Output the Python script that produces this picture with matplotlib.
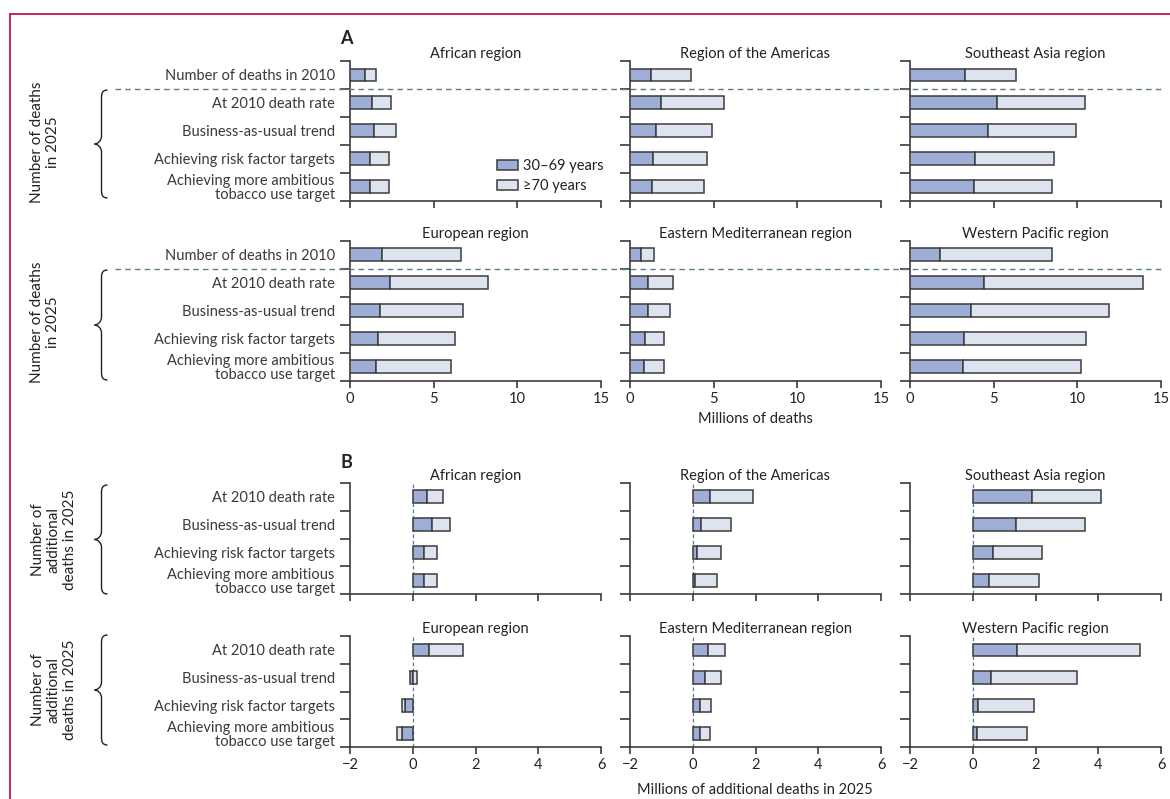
import numpy as np
import matplotlib
matplotlib.use("Agg")
import matplotlib.pyplot as plt
from matplotlib.patches import Patch, PathPatch
from matplotlib.path import Path
from matplotlib.lines import Line2D
import matplotlib.transforms as mtransforms

plt.rcParams['font.family'] = ['Lato', 'DejaVu Sans']
plt.rcParams['text.color'] = '#222222'
plt.rcParams['axes.labelcolor'] = '#222222'
plt.rcParams['xtick.color'] = '#3a3a3a'
plt.rcParams['ytick.color'] = '#3a3a3a'
plt.rcParams['xtick.labelcolor'] = '#222222'

# ---------------- data ----------------
regions = ["African region", "Region of the Americas", "Southeast Asia region",
           "European region", "Eastern Mediterranean region", "Western Pacific region"]

cats_a = ["Number of deaths in 2010", "At 2010 death rate", "Business-as-usual trend",
          "Achieving risk factor targets", "Achieving more ambitious\ntobacco use target"]
cats_b = cats_a[1:]

# Panel A: millions of deaths (30-69 years, >=70 years)
a_30_69 = {
    "African region": [0.87, 1.33, 1.46, 1.21, 1.21],
    "Region of the Americas": [1.26, 1.84, 1.57, 1.39, 1.33],
    "Southeast Asia region": [3.29, 5.20, 4.66, 3.90, 3.83],
    "European region": [1.92, 2.40, 1.81, 1.65, 1.58],
    "Eastern Mediterranean region": [0.63, 1.10, 1.06, 0.90, 0.86],
    "Western Pacific region": [1.78, 4.44, 3.63, 3.20, 3.18],
}
a_70 = {
    "African region": [0.69, 1.14, 1.29, 1.12, 1.12],
    "Region of the Americas": [2.36, 3.76, 3.31, 3.19, 3.10],
    "Southeast Asia region": [3.04, 5.27, 5.29, 4.70, 4.64],
    "European region": [4.69, 5.84, 4.96, 4.60, 4.48],
    "Eastern Mediterranean region": [0.83, 1.45, 1.35, 1.15, 1.19],
    "Western Pacific region": [6.71, 9.46, 8.24, 7.32, 7.05],
}
# Panel B: millions of additional deaths in 2025
b_30_69 = {
    "African region": [0.47, 0.60, 0.35, 0.35],
    "Region of the Americas": [0.56, 0.25, 0.13, 0.07],
    "Southeast Asia region": [1.89, 1.38, 0.65, 0.53],
    "European region": [0.51, -0.08, -0.26, -0.33],
    "Eastern Mediterranean region": [0.49, 0.38, 0.23, 0.22],
    "Western Pacific region": [1.41, 0.57, 0.17, 0.12],
}
b_70 = {
    "African region": [0.48, 0.59, 0.42, 0.42],
    "Region of the Americas": [1.37, 0.97, 0.78, 0.71],
    "Southeast Asia region": [2.19, 2.19, 1.57, 1.57],
    "European region": [1.10, 0.15, -0.07, -0.17],
    "Eastern Mediterranean region": [0.55, 0.52, 0.36, 0.34],
    "Western Pacific region": [3.91, 2.75, 1.77, 1.60],
}
a_ticks = [0, 5, 10, 15]
b_ticks = [-2, 0, 2, 4, 6]
series_labels = ["30\u201369 years", "\u226570 years"]

# ---------------- style ----------------
C_BLUE = "#9eaed6"
C_LIGHT = "#dde3ef"
C_EDGE = "#3c3c3c"
C_DASH = "#5b7d8f"
C_BORDER = "#c8174a"
FS = 10.5

W, H = 1170, 799
fig = plt.figure(figsize=(W / 100, H / 100), dpi=100)


def px_axes(left, top, right, bottom):
    return fig.add_axes([left / W, 1 - bottom / H, (right - left) / W, (bottom - top) / H])


col_x = [(350, 601), (630, 881), (910, 1161)]
rows_px = {
    "A1": (61, 200.5), "A2": (240.7, 380.7),
    "B1": (482.7, 594.3), "B2": (636, 747.3),
}


def style_axes(ax, ncat, xlim, xticks, show_xlabels, cats, show_ylabels):
    for s in ["top", "right"]:
        ax.spines[s].set_visible(False)
    for s in ["left", "bottom"]:
        ax.spines[s].set_color(C_EDGE)
        ax.spines[s].set_linewidth(1.2)
    ax.set_xlim(*xlim)
    ax.set_ylim(ncat - 0.5, -0.5)
    ax.set_xticks(xticks)
    ax.tick_params(axis="x", length=5, width=1.2, pad=3, labelsize=FS,
                   labelbottom=show_xlabels)
    ax.set_yticks(np.arange(-0.5, ncat, 1.0))
    ax.set_yticklabels([])
    ax.tick_params(axis="y", which="major", length=7, width=1.2)
    ax.set_yticks(np.arange(ncat), minor=True)
    if show_ylabels:
        ax.set_yticklabels(cats, minor=True, fontsize=FS, linespacing=1.0)
    ax.tick_params(axis="y", which="minor", length=0, pad=11)


def draw_bars(ax, v1, v2):
    y = np.arange(len(v1))
    v1 = np.asarray(v1)
    v2 = np.asarray(v2)
    left2 = np.where(np.sign(v1) == np.sign(v2), v1, 0.0)
    ax.barh(y, v1, height=0.46, color=C_BLUE, edgecolor=C_EDGE, linewidth=1.1, zorder=3)
    ax.barh(y, v2, left=left2, height=0.46, color=C_LIGHT, edgecolor=C_EDGE,
            linewidth=1.1, zorder=3)


axes = {}
for panel in ["A", "B"]:
    for r in range(2):
        key = f"{panel}{r + 1}"
        top, bot = rows_px[key]
        for c in range(3):
            reg = regions[r * 3 + c]
            ax = px_axes(col_x[c][0], top, col_x[c][1], bot)
            axes[(key, c)] = ax
            if panel == "A":
                draw_bars(ax, a_30_69[reg], a_70[reg])
                style_axes(ax, len(cats_a), (0, 15), a_ticks, r == 1, cats_a, c == 0)
            else:
                ax.axvline(0, color=C_DASH, lw=0.9, ls=(0, (3, 2)), zorder=1)
                draw_bars(ax, b_30_69[reg], b_70[reg])
                style_axes(ax, len(cats_b), (-2, 6), b_ticks, r == 1, cats_b, c == 0)
            ax.set_title(reg, fontsize=FS, pad=1.5)

# legend
leg_ax = axes[("A1", 0)]
handles = [Patch(facecolor=C_BLUE, edgecolor=C_EDGE, linewidth=1.1),
           Patch(facecolor=C_LIGHT, edgecolor=C_EDGE, linewidth=1.1)]
leg_ax.legend(handles, series_labels, loc="upper left",
              bbox_to_anchor=((497 - 350) / 251, (200.5 - 159) / 139.5),
              frameon=False, fontsize=FS, handlelength=1.45, handleheight=0.75,
              handletextpad=0.35, labelspacing=0.42, borderpad=0, borderaxespad=0)

# horizontal dashed separators in panel A
for key in ["A1", "A2"]:
    ax = axes[(key, 0)]
    tr = mtransforms.blended_transform_factory(fig.transFigure, ax.transData)
    fig.add_artist(Line2D([115 / W, 1162 / W], [0.5, 0.5], transform=tr, color=C_DASH,
                          lw=1.0, ls=(0, (4, 3)), zorder=5))


# braces
def brace(x, ytop, ybot):
    ym = (ytop + ybot) / 2
    pts = [
        (x + 6, ytop), (x + 1, ytop), (x, ytop + 3), (x, ytop + 8),
        (x, ym - 8),
        (x, ym - 3), (x - 4, ym), (x - 7, ym),
        (x - 4, ym), (x, ym + 3), (x, ym + 8),
        (x, ybot - 8),
        (x, ybot - 3), (x + 1, ybot), (x + 6, ybot),
    ]
    codes = [Path.MOVETO, Path.CURVE4, Path.CURVE4, Path.CURVE4,
             Path.LINETO,
             Path.CURVE4, Path.CURVE4, Path.CURVE4,
             Path.CURVE4, Path.CURVE4, Path.CURVE4,
             Path.LINETO,
             Path.CURVE4, Path.CURVE4, Path.CURVE4]
    verts = [(px / W, 1 - py / H) for px, py in pts]
    fig.add_artist(PathPatch(Path(verts, codes), transform=fig.transFigure,
                             facecolor="none", edgecolor="#222222", lw=1.0))


brace(101.5, 90, 198)
brace(101.5, 270, 380)
brace(101.5, 485, 594)
brace(101.5, 635, 745)

lab_a = "Number of deaths\nin 2025"
lab_b = "Number of\nadditional\ndeaths in 2025"
for (x, y, t) in [(45, 142, lab_a), (45, 322, lab_a), (54, 540, lab_b), (54, 690, lab_b)]:
    fig.text(x / W, 1 - y / H, t, rotation=90, ha="center", va="center",
             multialignment="center", fontsize=11, linespacing=1.2)

# panel letters
fig.text(340 / W, 1 - 39 / H, "A", fontsize=13, fontweight="bold", ha="left", va="center")
fig.text(340 / W, 1 - 462 / H, "B", fontsize=13, fontweight="bold", ha="left", va="center")

# x labels
fig.text(755 / W, 1 - 419 / H, "Millions of deaths", ha="center", va="center", fontsize=FS)
fig.text(755 / W, 1 - 790 / H, "Millions of additional deaths in 2025", ha="center",
         va="center", fontsize=FS)

# frame
fig.add_artist(Line2D([10 / W, 10 / W], [0, 1 - 14 / H], transform=fig.transFigure,
                      color=C_BORDER, lw=1.3))
fig.add_artist(Line2D([10 / W, 1], [1 - 14 / H, 1 - 14 / H], transform=fig.transFigure,
                      color=C_BORDER, lw=1.3))

fig.savefig("out.png", dpi=100)
